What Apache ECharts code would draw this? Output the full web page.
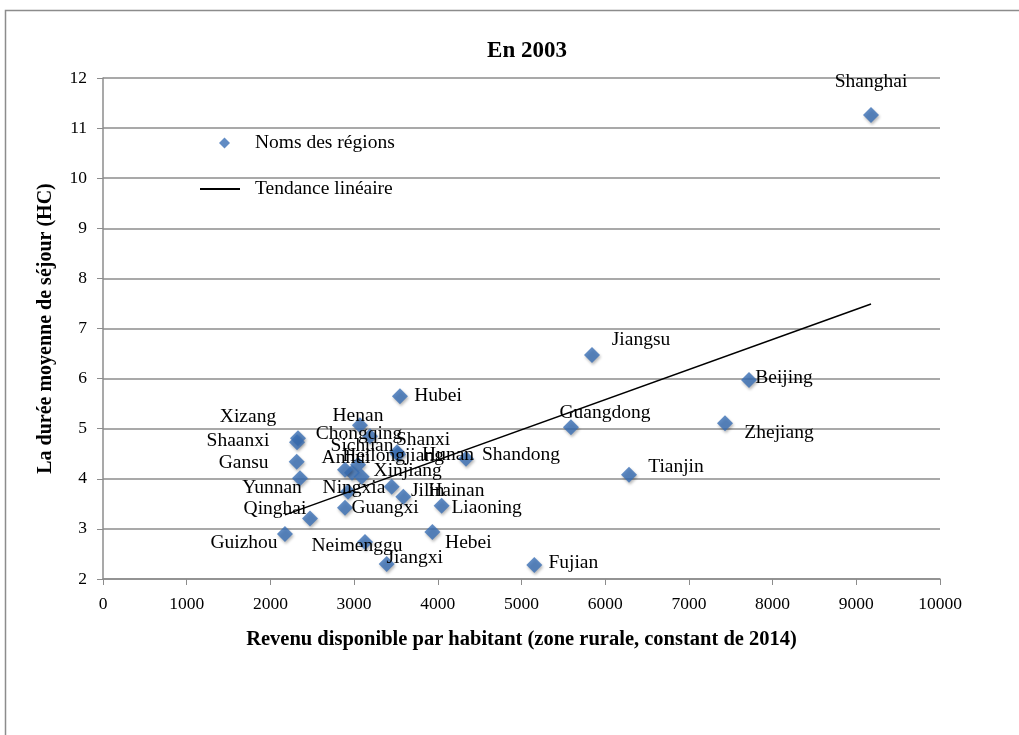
<!DOCTYPE html>
<html>
<head>
<meta charset="utf-8">
<script src="https://cdn.jsdelivr.net/npm/echarts@6/dist/echarts.min.js"></script>
<style>html,body{margin:0;padding:0;background:#fff}#c{width:1019px;height:735px}</style>
</head>
<body>
<div id="c"></div>
<script>
// ---- data ----
const regions = ["Shanghai","Jiangsu","Beijing","Hubei","Guangdong","Zhejiang","Tianjin","Shandong","Henan","Xizang","Shaanxi","Gansu","Yunnan","Chongqing","Shanxi","Hunan","Heilongjiang","Sichuan","Anhui","Xinjiang","Ningxia","Jilin","Hainan","Qinghai","Guangxi","Liaoning","Guizhou","Neimenggu","Jiangxi","Hebei","Fujian"];
const revenue = [9176,5842,7718,3548,5591,7431,6284,4337,3070,2330,2318,2314,2354,3190,3513,3525,3047,2975,2891,3091,2927,3449,3588,2473,2891,4046,2174,3130,3389,3935,5153];
const duree   = [11.26,6.47,5.97,5.65,5.03,5.11,4.08,4.40,5.07,4.81,4.73,4.34,4.01,4.85,4.53,4.49,4.28,4.12,4.18,4.04,3.74,3.84,3.64,3.21,3.42,3.46,2.90,2.74,2.30,2.94,2.28];
const trendX = [2174, 9176];
const trendY = [3.28, 7.49];
const xTicks = [0,1000,2000,3000,4000,5000,6000,7000,8000,9000,10000];
const yTicks = [2,3,4,5,6,7,8,9,10,11,12];

// label placement (pixel offsets of label centre from point)
const labelOffset = {
  Shanghai:[0,-33], Jiangsu:[49,-15], Beijing:[35,-2], Hubei:[38,0], Guangdong:[34,-14],
  Zhejiang:[54,10], Tianjin:[47,-8], Shandong:[55,-4], Henan:[-2,-9], Xizang:[-50,-21],
  Shaanxi:[-59,-1], Gansu:[-53,1], Yunnan:[-28,10], Chongqing:[-11,-2], Shanxi:[26,-12],
  Hunan:[50,1], Heilongjiang:[35,-9], Sichuan:[10,-27], Anhui:[1,-12], Xinjiang:[46,-6],
  Ningxia:[6,-4], Jilin:[36,4], Hainan:[53,-6], Qinghai:[-35,-10], Guangxi:[40,0],
  Liaoning:[45,2], Guizhou:[-41,9], Neimenggu:[-8,4], Jiangxi:[28,-6], Hebei:[36,11], Fujian:[39,-2]
};

const FONT = '"Liberation Serif","Times New Roman",serif';
const GRAY = '#8c8c8c';

const scatterData = regions.map((n,i)=>({ name:n, value:[revenue[i], duree[i]] }));

const chart = echarts.init(document.getElementById('c'));
chart.setOption({
  animation:false,
  backgroundColor:'#fff',
  title:{text:'En 2003', left:522, top:35, textAlign:'center',
    textStyle:{fontFamily:FONT, fontSize:23, fontWeight:'bold', color:'#000'}},
  graphic:[{type:'rect', shape:{x:5.5,y:10.5,width:1100,height:800},
    style:{fill:null, stroke:GRAY, lineWidth:1.5}, silent:true}],
  legend:[
    {data:[{name:'Noms des régions', icon:'diamond'}], left:214, top:128, itemWidth:11, itemHeight:11,
     textStyle:{fontFamily:FONT, fontSize:19.5, color:'#000', padding:[0,0,0,20]}},
    {data:[{name:'Tendance linéaire', icon:'rect'}], left:195, top:174, itemWidth:40, itemHeight:2,
     textStyle:{fontFamily:FONT, fontSize:19.5, color:'#000', padding:[0,0,0,10]}}
  ],
  grid:{left:103, right:79, top:78, bottom:156},
  xAxis:{type:'value', min:xTicks[0], max:xTicks[xTicks.length-1], interval:1000,
    name:'Revenu disponible par habitant (zone rurale, constant de 2014)', nameLocation:'middle', nameGap:50,
    nameTextStyle:{fontFamily:FONT, fontSize:20.5, fontWeight:'bold', color:'#000'},
    axisLine:{lineStyle:{color:GRAY, width:1.5}}, axisTick:{show:true, length:6, lineStyle:{color:GRAY}},
    axisLabel:{fontFamily:FONT, fontSize:17.5, color:'#000', margin:16, formatter:v=>String(v)},
    splitLine:{show:false}},
  yAxis:{type:'value', min:yTicks[0], max:yTicks[yTicks.length-1], interval:1,
    name:'La durée moyenne de séjour (HC)', nameLocation:'middle', nameGap:47,
    nameTextStyle:{fontFamily:FONT, fontSize:20, fontWeight:'bold', color:'#000'},
    axisLine:{show:true, lineStyle:{color:GRAY, width:1.5}}, axisTick:{show:true, length:6, lineStyle:{color:GRAY}},
    axisLabel:{fontFamily:FONT, fontSize:17.5, color:'#000', margin:16, formatter:v=>String(v)},
    splitLine:{lineStyle:{color:GRAY, width:1.5}}},
  series:[
    {name:'Noms des régions', type:'scatter', symbol:'diamond', symbolSize:16,
     itemStyle:{color:'#3a6fb5', shadowBlur:3, shadowColor:'rgba(0,0,0,0.35)', shadowOffsetX:1, shadowOffsetY:2},
     label:{show:true, position:'inside', formatter:'{b}', fontFamily:FONT, fontSize:19.5, color:'#000',
       textBorderWidth:0, textShadowBlur:0, textShadowColor:'transparent', opacity:1},
     labelLayout:function(p){ const o = labelOffset[regions[p.dataIndex]] || [30,0]; return {dx:o[0], dy:o[1], hideOverlap:false}; },
     data:scatterData, z:3},
    {name:'Tendance linéaire', type:'line', symbol:'none', color:'#000',
     lineStyle:{color:'#000', width:1.5},
     data:trendX.map((x,i)=>[x, trendY[i]]), z:4}
  ]
});
</script>
</body>
</html>
